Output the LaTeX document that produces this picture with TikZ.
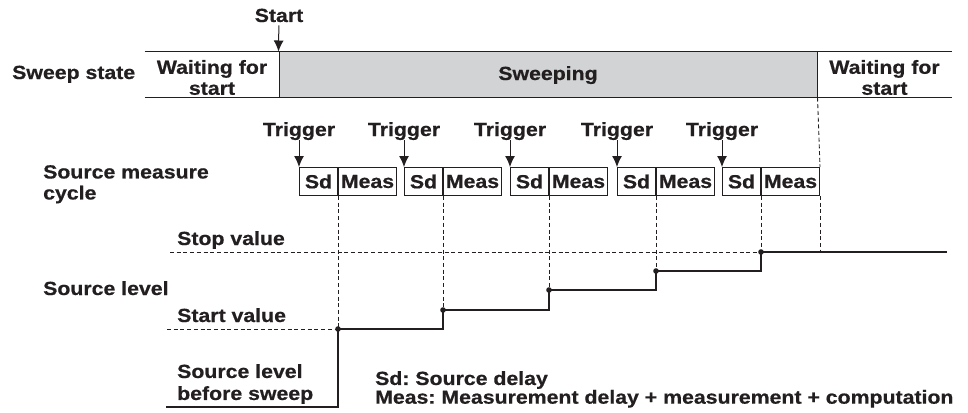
\documentclass[tikz,border=0pt]{standalone}
\usepackage{fontspec}
\setmainfont{Liberation Sans}[FakeStretch=1.12, BoldFeatures={FakeBold=0.6}]
\usepackage{tikz}
\usetikzlibrary{arrows.meta,positioning}

\definecolor{ink}{HTML}{231F20}
\definecolor{sweepgray}{HTML}{D1D3D4}
\frenchspacing

\begin{document}
\begin{tikzpicture}[x=1pt, y=-1pt,
	basic/.style = {draw=ink, line width=1pt},
	lbl/.style   = {inner sep=0pt, text=ink, font=\bfseries\fontsize{19}{21}\selectfont},
	band/.style  = {inner sep=0pt, minimum height=45pt},
	cell/.style  = {basic, lbl, minimum height=28pt, anchor=north west},
	guide/.style = {draw=ink, line width=0.9pt, dash pattern=on 4pt off 2.7pt},
	level/.style = {draw=ink, line width=1.2pt},
	pointer/.style = {basic, -{Latex[length=11pt,width=10pt]}}]
	
	\useasboundingbox (0,0) rectangle (968,412);
	
	% sweep state band
	\node[band, minimum width=134pt] (wait1) at (212,74.5) {};
	\node[band, basic, minimum width=538pt, fill=sweepgray] (sweep) at (548,74.5) {};
	\node[band, minimum width=135pt] (wait2) at (884.5,74.5) {};
	\draw[basic] (wait1.north west) -- (wait2.north east);
	\draw[basic] (wait1.south west) -- (wait2.south east);
	
	\node[lbl, align=center, yshift=-3pt] (wait1txt) at (wait1) {Waiting for\\start};
	\node[lbl, align=center, yshift=-3pt] (wait2txt) at (wait2) {Waiting for\\start};
	\node[lbl, anchor=base] (sweeptxt) at (548,80) {Sweeping};
	\node[lbl, anchor=base west] (statelbl) at (12,79) {Sweep state};
	
	\node[lbl, anchor=base] (start) at (279,22) {Start};
	\draw[pointer, shorten <=3pt] (start) -- (sweep.north west);
	
	% source measure cycles, one per trigger
	\foreach \x [count=\i] in {299,404,510,617,722}{
		\node[cell, minimum width=38pt] (sd\i) at (\x,167) {Sd};
		\node[cell, minimum width=58pt] (meas\i) at (sd\i.north east) {Meas};
		\node[lbl, anchor=base] (trig\i) at (\x,136) {Trigger};
		\draw[pointer] (trig\i) -- (sd\i.north west);
	}
	
	% step points of the source level
	\foreach \y [count=\i] in {329,310,290,271,252}
		\coordinate (p\i) at (meas\i.north west |- 0,\y);
	\coordinate (startL) at (167,329);
	\coordinate (stopL) at (170,252);
	\coordinate (stopR) at (meas5.south east |- p5);
	\coordinate (before) at (166,407);
	\coordinate (after) at (947,252);
	
	% dashed guide lines
	\foreach \i in {1,...,5}
		\draw[guide] (meas\i.south west) -- (p\i);
	\draw[guide] (sweep.south east) -- (meas5.north east);
	\draw[guide] (meas5.south east) -- (stopR);
	\draw[guide] (startL) -- (p1);
	\draw[guide] (stopL) -- (p5);
	
	% source level
	\draw[level] (before) -| (p1) -| (p2) -| (p3) -| (p4) -| (p5) -- (after);
	\foreach \i in {1,...,5}
		\fill[ink] (p\i) circle (2.8pt);
	
	% labels
	\node[lbl, anchor=north west, align=left] (cyclelbl) at (43,165) {Source measure\\cycle};
	\node[lbl, anchor=base west] (stoplbl) at (177,245) {Stop value};
	\node[lbl, anchor=base west] (levellbl) at (43,295) {Source level};
	\node[lbl, anchor=base west] (startlbl) at (177,322) {Start value};
	\node[lbl, anchor=north west, align=left, font=\bfseries\fontsize{19}{22}\selectfont] (beforelbl) at (177,364) {Source level\\before sweep};
	\node[lbl, anchor=north west, align=left, font=\bfseries\fontsize{19}{17.5}\selectfont] (legend) at (375,371) {Sd: Source delay\\Meas: Measurement delay + measurement + computation};
	
\end{tikzpicture}
\end{document}
